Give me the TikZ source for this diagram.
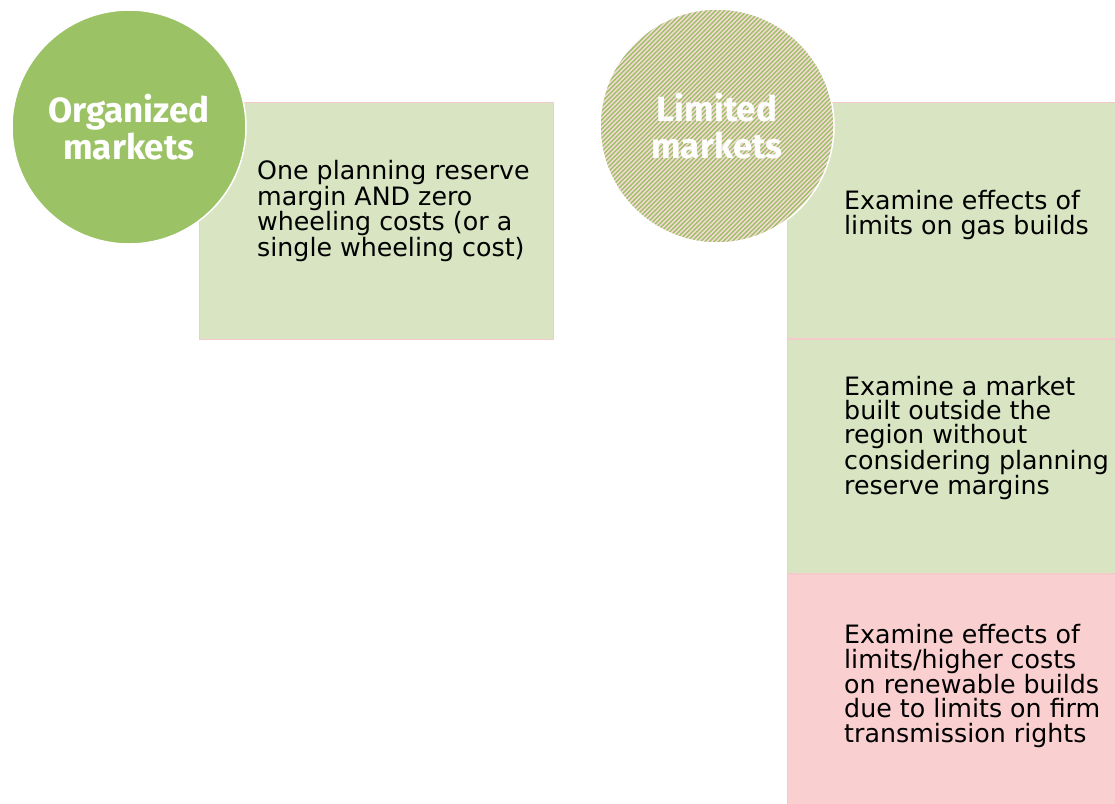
\documentclass[tikz,border=0pt]{standalone}
\usepackage{fontspec}
\setmainfont{DejaVu Sans}
\newfontfamily\hubfont{Fira Sans}
\definecolor{mktGreen}{HTML}{9BC265}
\definecolor{mktLight}{HTML}{D8E4C2}
\definecolor{mktPink}{HTML}{F9CFD0}
\definecolor{mktEdge}{HTML}{F5CACB}
\usetikzlibrary{positioning}

\tikzset{
  hub/.style={circle, minimum size=234pt, inner sep=0pt, draw=white, line width=1.5pt,
    text=white, align=center, font=\hubfont\fontsize{35}{37}\selectfont\bfseries},
  cell/.style={rectangle, draw=mktEdge, line width=1pt, fill=mktLight, inner sep=0pt},
  note/.style={anchor=west, align=left, inner sep=0pt, font=\fontsize{25.3}{24.3}\selectfont}
}

\begin{document}
\begin{tikzpicture}[x=1pt,y=-1pt]
\useasboundingbox (0,0) rectangle (1115,803);
% boxes
\node[cell, anchor=north west, minimum width=354pt, minimum height=237pt] (orgbox) at (199,102) {};
\node[cell, anchor=north west, minimum width=340pt, minimum height=236pt] (gasbox) at (787,102) {};
\node[cell, minimum width=340pt, minimum height=234pt, below=0pt of gasbox.south west, anchor=north west] (outbox) {};
\node[cell, fill=mktPink, minimum width=340pt, minimum height=240pt, below=0pt of outbox.south west, anchor=north west] (firmbox) {};

% hatched circle
\begin{scope}
  \clip (717,126) circle (117);
  \fill[mktPink!80!white] (598,7) rectangle (836,245);
  \foreach \k in {-40,...,40}
    \draw[mktGreen, line width=1.4pt] (\k*4.5+587,256) -- ++(260,-260);
\end{scope}

% circles
\node[hub, fill=mktGreen] (organized) at (129,127) {Organized\\markets};
\node[hub] (limited) at (717,126) {Limited\\markets};

% texts
\node[note] (orgtext) at (257,211) {One planning reserve\\margin AND zero\\wheeling costs (or a\\single wheeling cost)};
\node[note] (gastext) at (844,215) {Examine effects of\\limits on gas builds};
\node[note] (outtext) at (844,438) {Examine a market\\built outside the\\region without\\considering planning\\reserve margins};
\node[note] (firmtext) at (844,686) {Examine effects of\\limits/higher costs\\on renewable builds\\due to limits on firm\\transmission rights};
\end{tikzpicture}
\end{document}
